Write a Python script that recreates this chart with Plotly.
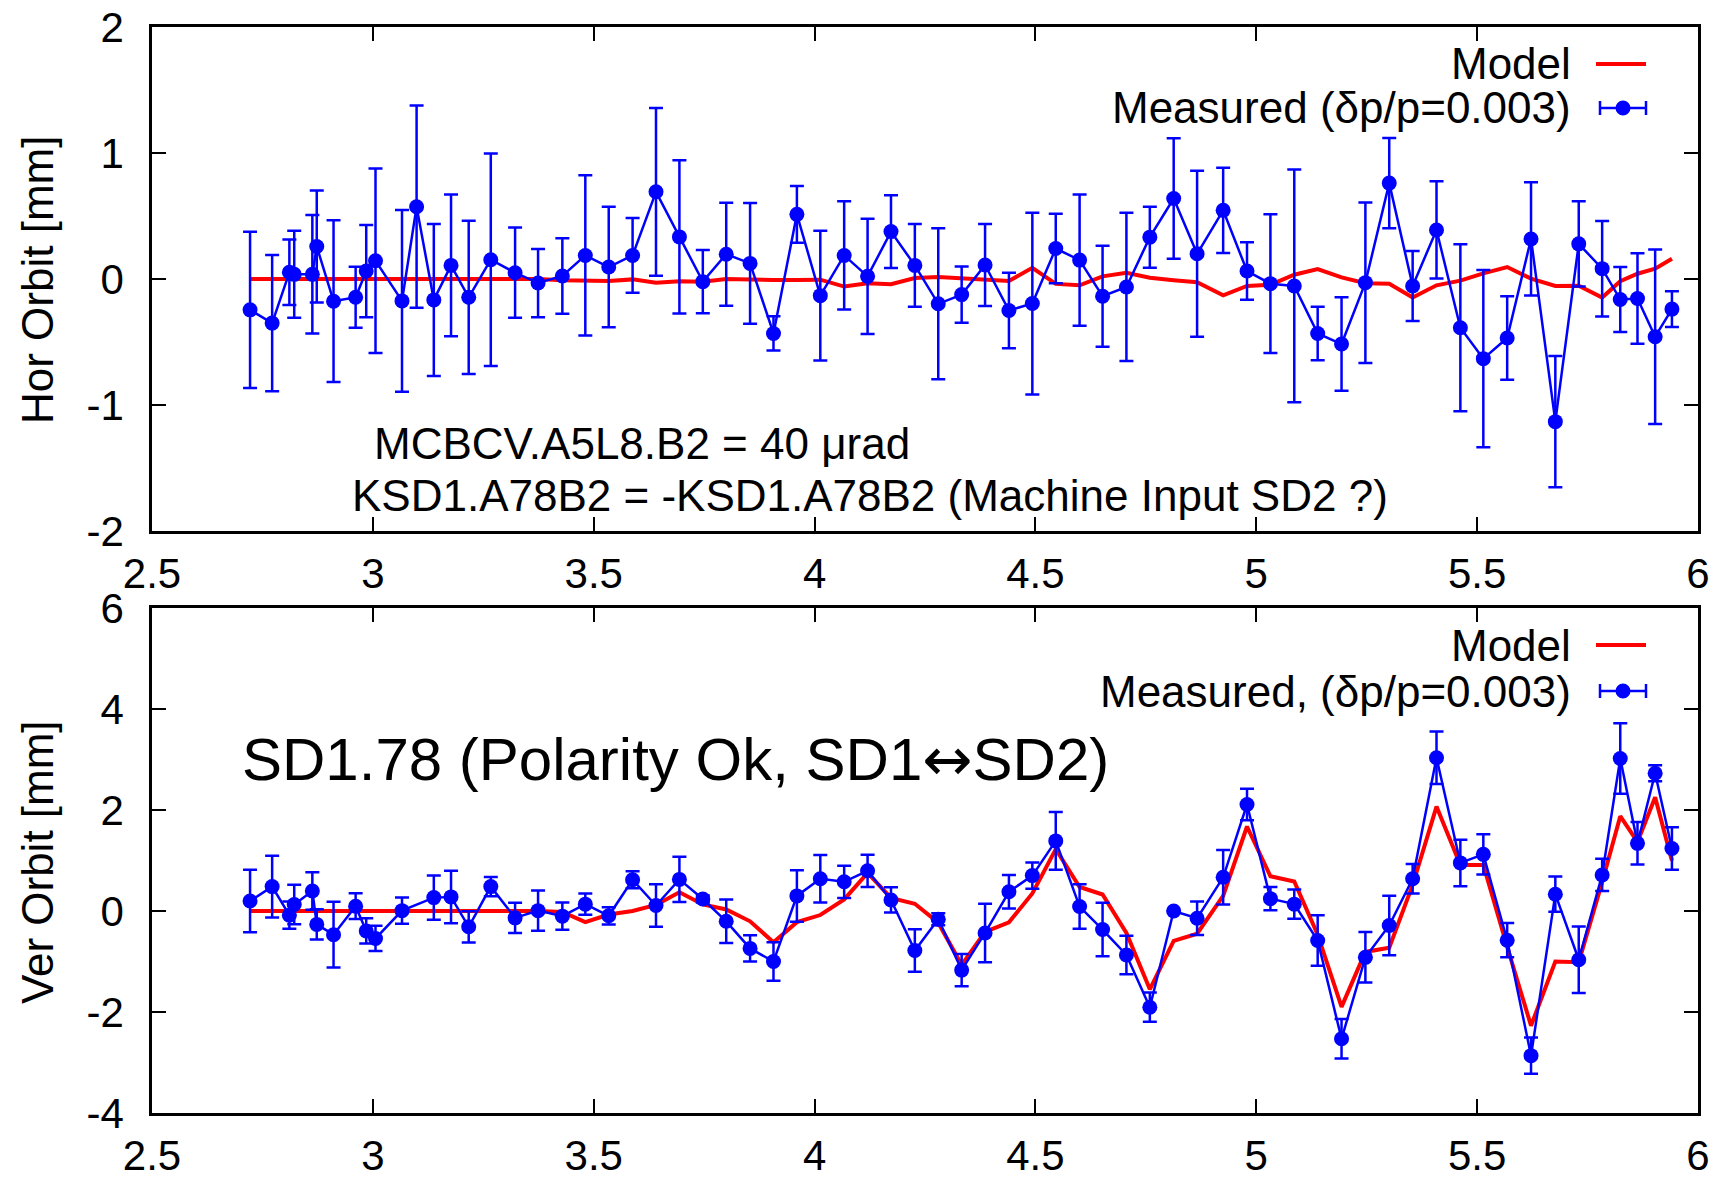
import plotly.graph_objects as go

# ---------------- data ----------------
# BPM positions [km] (horizontal plane)
x_hor = [2.722, 2.772, 2.811, 2.822, 2.863, 2.873, 2.911, 2.961, 2.985, 3.006,
         3.066, 3.099, 3.138, 3.177, 3.217, 3.267, 3.322, 3.374, 3.429, 3.481,
         3.534, 3.588, 3.641, 3.694, 3.747, 3.800, 3.854, 3.907, 3.960, 4.013,
         4.067, 4.120, 4.173, 4.227, 4.280, 4.333, 4.386, 4.440, 4.493, 4.546,
         4.600, 4.652, 4.706, 4.759, 4.813, 4.866, 4.925, 4.979, 5.032, 5.086,
         5.139, 5.193, 5.247, 5.301, 5.354, 5.408, 5.462, 5.514, 5.568, 5.622,
         5.677, 5.730, 5.783, 5.824, 5.863, 5.903, 5.941]
hor_model = [0, 0, 0, 0, 0, 0, 0, 0, 0, 0,
             0, 0, 0, 0, 0, 0, 0, 0, -0.01, -0.01,
             -0.016, -0.003, -0.029, -0.018, -0.021, 0.0, -0.008, -0.008, -0.008, -0.005,
             -0.06, -0.034, -0.042, 0.008, 0.016, 0.005, -0.005, -0.016, 0.089, -0.039,
             -0.05, 0.021, 0.05, 0.01, -0.01, -0.026, -0.129, -0.055, -0.045, 0.034,
             0.079, 0.013, -0.034, -0.037, -0.147, -0.05, -0.013, 0.045, 0.095, 0.003,
             -0.055, -0.053, -0.147, -0.018, 0.042, 0.082, 0.161]
hor_meas = [-0.245, -0.35, 0.053, 0.037, 0.037, 0.258, -0.176, -0.145, 0.063, 0.145,
            -0.174, 0.574, -0.166, 0.108, -0.145, 0.153, 0.05, -0.032, 0.024, 0.187,
            0.095, 0.187, 0.692, 0.334, -0.021, 0.197, 0.124, -0.432, 0.513, -0.132,
            0.187, 0.021, 0.376, 0.108, -0.197, -0.124, 0.111, -0.25, -0.195, 0.242,
            0.15, -0.137, -0.063, 0.332, 0.639, 0.20, 0.545, 0.063, -0.037, -0.055,
            -0.432, -0.516, -0.029, 0.761, -0.055, 0.389, -0.387, -0.632, -0.468, 0.318,
            -1.132, 0.279, 0.082, -0.163, -0.155, -0.458, -0.239]
hor_err = [0.62, 0.54, 0.26, 0.345, 0.47, 0.445, 0.642, 0.242, 0.366, 0.732,
           0.721, 0.803, 0.603, 0.562, 0.608, 0.843, 0.358, 0.271, 0.299, 0.636,
           0.478, 0.297, 0.666, 0.608, 0.251, 0.409, 0.48, 0.136, 0.225, 0.514,
           0.43, 0.457, 0.289, 0.328, 0.599, 0.224, 0.326, 0.30, 0.721, 0.275,
           0.521, 0.40, 0.588, 0.242, 0.478, 0.659, 0.338, 0.228, 0.55, 0.924,
           0.212, 0.371, 0.637, 0.358, 0.278, 0.386, 0.663, 0.704, 0.332, 0.449,
           0.521, 0.338, 0.379, 0.258, 0.359, 0.692, 0.141]

# BPM positions [km] (vertical plane)
x_ver = [2.722, 2.772, 2.811, 2.822, 2.863, 2.873, 2.911, 2.961, 2.985, 3.006,
         3.066, 3.138, 3.177, 3.217, 3.267, 3.322, 3.374, 3.429, 3.481, 3.534,
         3.588, 3.641, 3.694, 3.747, 3.800, 3.854, 3.907, 3.960, 4.013, 4.067,
         4.120, 4.173, 4.227, 4.280, 4.333, 4.386, 4.440, 4.493, 4.546, 4.600,
         4.652, 4.706, 4.759, 4.813, 4.866, 4.925, 4.979, 5.032, 5.086, 5.139,
         5.193, 5.247, 5.301, 5.354, 5.408, 5.462, 5.514, 5.568, 5.622, 5.677,
         5.730, 5.783, 5.824, 5.863, 5.903, 5.941]
ver_model = [0, 0, 0, 0, 0, 0, 0, 0, 0, 0,
             0, 0, 0, 0, 0, 0, 0, -0.02, -0.22, -0.07,
             0.0, 0.12, 0.37, 0.13, 0.03, -0.204, -0.619, -0.22, -0.08, 0.23,
             0.755, 0.259, 0.143, -0.231, -1.068, -0.415, -0.224, 0.347, 1.224, 0.476,
             0.327, -0.435, -1.55, -0.592, -0.45, 0.299, 1.673, 0.687, 0.585, -0.469,
             -1.898, -0.81, -0.728, 0.517, 2.068, 0.912, 0.912, -0.707, -2.272, -1.0,
             -1.014, 0.571, 1.878, 1.367, 2.252, 0.993]
ver_meas = [0.197, 0.483, -0.082, 0.129, 0.395, -0.265, -0.469, 0.095, -0.395, -0.544,
            0.007, 0.265, 0.279, -0.313, 0.483, -0.136, 0.007, -0.102, 0.136, -0.095,
            0.619, 0.109, 0.626, 0.238, -0.204, -0.741, -1.0, 0.299, 0.639, 0.578,
            0.796, 0.218, -0.782, -0.163, -1.17, -0.435, 0.381, 0.701, 1.388, 0.088,
            -0.367, -0.871, -1.905, 0.0, -0.143, 0.667, 2.109, 0.245, 0.136, -0.585,
            -2.531, -0.918, -0.286, 0.639, 3.034, 0.952, 1.122, -0.578, -2.864, 0.333,
            -0.966, 0.714, 3.02, 1.34, 2.728, 1.238]
ver_err = [0.62, 0.61, 0.27, 0.39, 0.37, 0.30, 0.65, 0.255, 0.25, 0.25,
           0.26, 0.44, 0.52, 0.31, 0.19, 0.30, 0.40, 0.27, 0.21, 0.17,
           0.17, 0.42, 0.45, 0.07, 0.43, 0.26, 0.38, 0.51, 0.47, 0.32,
           0.32, 0.25, 0.42, 0.12, 0.32, 0.58, 0.33, 0.26, 0.57, 0.44,
           0.53, 0.38, 0.29, 0.0, 0.33, 0.54, 0.31, 0.23, 0.29, 0.50,
           0.39, 0.50, 0.59, 0.29, 0.52, 0.46, 0.40, 0.34, 0.36, 0.35,
           0.66, 0.32, 0.70, 0.42, 0.16, 0.42]

x_tick_vals = [2.5, 3, 3.5, 4, 4.5, 5, 5.5, 6]
x_tick_text = ["2.5", "3", "3.5", "4", "4.5", "5", "5.5", "6"]
y1_tick_vals = [-2, -1, 0, 1, 2]
y1_tick_text = ["-2", "-1", "0", "1", "2"]
y2_tick_vals = [-4, -2, 0, 2, 4, 6]
y2_tick_text = ["-4", "-2", "0", "2", "4", "6"]

# ---------------- styling / layout ----------------
W, H = 1725, 1180
L, R, T, B = 152, 27, 27, 67
PW = W - L - R
PH = H - T - B
FONT = "Liberation Sans, Arial, Helvetica, sans-serif"
BLUE = "#0000ff"
RED = "#ff0000"


def px(xpix):
    return (xpix - L) / PW


def py(ypix):
    return (H - B - ypix) / PH


top_dom = [py(531), 1.0]
bot_dom = [0.0, py(608)]

fig = go.Figure()

# top panel
fig.add_trace(go.Scatter(x=x_hor, y=hor_model, mode="lines",
                         line=dict(color=RED, width=4), xaxis="x", yaxis="y",
                         showlegend=False))
fig.add_trace(go.Scatter(x=x_hor, y=hor_meas, mode="lines+markers",
                         line=dict(color=BLUE, width=2.5),
                         marker=dict(color=BLUE, size=15),
                         error_y=dict(type="data", array=hor_err, visible=True,
                                      color=BLUE, thickness=2.5, width=7),
                         xaxis="x", yaxis="y", showlegend=False))
# bottom panel
fig.add_trace(go.Scatter(x=x_ver, y=ver_model, mode="lines",
                         line=dict(color=RED, width=4), xaxis="x2", yaxis="y2",
                         showlegend=False))
fig.add_trace(go.Scatter(x=x_ver, y=ver_meas, mode="lines+markers",
                         line=dict(color=BLUE, width=2.5),
                         marker=dict(color=BLUE, size=15),
                         error_y=dict(type="data", array=ver_err, visible=True,
                                      color=BLUE, thickness=2.5, width=7),
                         xaxis="x2", yaxis="y2", showlegend=False))

axis_common = dict(showline=True, linecolor="black", linewidth=2.5, mirror="ticks",
                   ticks="inside", ticklen=14, tickwidth=2, tickcolor="black",
                   showgrid=False, zeroline=False, automargin=False,
                   tickfont=dict(family=FONT, size=42, color="black"))

fig.update_layout(
    width=W, height=H,
    margin=dict(l=L, r=R, t=T, b=B, pad=0, autoexpand=False),
    paper_bgcolor="white", plot_bgcolor="white",
    showlegend=False,
    xaxis=dict(domain=[0, 1], anchor="y", range=[2.5, 6], tickvals=x_tick_vals,
               ticktext=x_tick_text, ticklabelstandoff=4, **axis_common),
    yaxis=dict(domain=top_dom, anchor="x", range=[-2, 2], tickvals=y1_tick_vals,
               ticktext=y1_tick_text, ticklabelstandoff=17, **axis_common),
    xaxis2=dict(domain=[0, 1], anchor="y2", range=[2.5, 6], tickvals=x_tick_vals,
                ticktext=x_tick_text, ticklabelstandoff=4, **axis_common),
    yaxis2=dict(domain=bot_dom, anchor="x2", range=[-4, 6], tickvals=y2_tick_vals,
                ticktext=y2_tick_text, ticklabelstandoff=17, **axis_common),
)

tf = dict(family=FONT, size=44, color="black")
ann = []
# axis titles
ann.append(dict(text="Hor Orbit [mm]", x=px(37), y=py(280), xref="paper", yref="paper",
                textangle=-90, showarrow=False, font=tf, xanchor="center", yanchor="middle"))
ann.append(dict(text="Ver Orbit [mm]", x=px(37), y=py(862), xref="paper", yref="paper",
                textangle=-90, showarrow=False, font=tf, xanchor="center", yanchor="middle"))
# panel texts
ann.append(dict(text="MCBCV.A5L8.B2 = 40 μrad", x=px(372), y=py(443), xref="paper",
                yref="paper", showarrow=False, font=tf, xanchor="left", yanchor="middle"))
ann.append(dict(text="KSD1.A78B2 = -KSD1.A78B2 (Machine Input SD2 ?)", x=px(350), y=py(495),
                xref="paper", yref="paper", showarrow=False, font=tf,
                xanchor="left", yanchor="middle"))
ann.append(dict(text="SD1.78 (Polarity Ok, SD1<span style=\"font-family:'DejaVu Sans'\">↔</span>SD2)",
                x=px(240), y=py(759), xref="paper",
                yref="paper", showarrow=False, font=dict(family=FONT, size=60, color="black"),
                xanchor="left", yanchor="middle"))

# manual legends (text right-aligned, symbol on the right, gnuplot style)
shapes = []
legends = [(64, 108, "Measured (δp/p=0.003)"), (645, 691, "Measured, (δp/p=0.003)")]
for y_mod, y_meas, meas_label in legends:
    ann.append(dict(text="Model", x=px(1573), y=py(y_mod), xref="paper", yref="paper",
                    showarrow=False, font=tf, xanchor="right", yanchor="middle"))
    ann.append(dict(text=meas_label, x=px(1573), y=py(y_meas), xref="paper", yref="paper",
                    showarrow=False, font=tf, xanchor="right", yanchor="middle"))
    shapes.append(dict(type="line", xref="paper", yref="paper",
                       x0=px(1596), x1=px(1646), y0=py(y_mod), y1=py(y_mod),
                       line=dict(color=RED, width=4)))
    shapes.append(dict(type="line", xref="paper", yref="paper",
                       x0=px(1600), x1=px(1646), y0=py(y_meas), y1=py(y_meas),
                       line=dict(color=BLUE, width=2.5)))
    for xe in (1600, 1646):
        shapes.append(dict(type="line", xref="paper", yref="paper",
                           x0=px(xe), x1=px(xe), y0=py(y_meas - 7), y1=py(y_meas + 7),
                           line=dict(color=BLUE, width=2.5)))
    shapes.append(dict(type="circle", xref="paper", yref="paper",
                       x0=px(1623 - 7.5), x1=px(1623 + 7.5),
                       y0=py(y_meas + 7.5), y1=py(y_meas - 7.5),
                       fillcolor=BLUE, line=dict(color=BLUE, width=0)))

fig.update_layout(annotations=ann, shapes=shapes)
fig.write_html("out.html", config={"displayModeBar": False},
               post_script="document.body.style.margin='0px';")
